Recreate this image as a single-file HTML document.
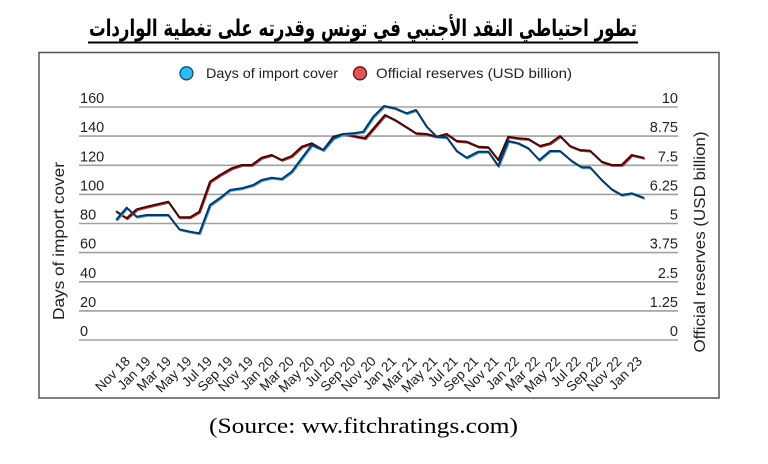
<!DOCTYPE html>
<html><head><meta charset="utf-8"><style>
html,body{margin:0;padding:0;background:#fff;}
svg{display:block;}
</style></head><body>
<svg width="768" height="464" viewBox="0 0 768 464" xmlns="http://www.w3.org/2000/svg">
<rect width="768" height="464" fill="#fff"/>
<!-- title -->
<text x="363" y="36" text-anchor="middle" direction="rtl" font-family="'DejaVu Sans', sans-serif" font-weight="bold" font-size="23" fill="#000" textLength="548" lengthAdjust="spacingAndGlyphs">تطور احتياطي النقد الأجنبي في تونس وقدرته على تغطية الواردات</text>
<rect x="88" y="41.5" width="550" height="2" fill="#000"/>
<!-- frame -->
<rect x="39" y="52.5" width="680" height="345.5" fill="none" stroke="#555" stroke-width="1.5"/>
<!-- legend -->
<circle cx="186.5" cy="73.3" r="6.5" fill="#2bbcf5" stroke="#1a4a6a" stroke-width="1.3"/>
<text x="206" y="78" font-family="'Liberation Sans', sans-serif" font-size="14" fill="#222" textLength="132" lengthAdjust="spacingAndGlyphs">Days of import cover</text>
<circle cx="360" cy="73.3" r="6.5" fill="#e05555" stroke="#6a1515" stroke-width="1.3"/>
<text x="376" y="78" font-family="'Liberation Sans', sans-serif" font-size="14" fill="#222" textLength="196" lengthAdjust="spacingAndGlyphs">Official reserves (USD billion)</text>
<!-- grid -->
<g stroke="#a0a0a0" stroke-width="1.6">
<line x1="79" x2="678" y1="107" y2="107"/>
<line x1="79" x2="678" y1="136.1" y2="136.1"/>
<line x1="79" x2="678" y1="165.3" y2="165.3"/>
<line x1="79" x2="678" y1="194.4" y2="194.4"/>
<line x1="79" x2="678" y1="223.5" y2="223.5"/>
<line x1="79" x2="678" y1="252.6" y2="252.6"/>
<line x1="79" x2="678" y1="281.8" y2="281.8"/>
<line x1="79" x2="678" y1="310.9" y2="310.9"/>
<line x1="79" x2="678" y1="340" y2="340"/>
</g>
<g font-family="'Liberation Sans', sans-serif" font-size="14.5" fill="#222">
<text x="80" y="103">160</text>
<text x="80" y="132.1">140</text>
<text x="80" y="161.3">120</text>
<text x="80" y="190.4">100</text>
<text x="80" y="219.5">80</text>
<text x="80" y="248.6">60</text>
<text x="80" y="277.8">40</text>
<text x="80" y="306.9">20</text>
<text x="80" y="336">0</text>
</g>
<g font-family="'Liberation Sans', sans-serif" font-size="14.5" fill="#222" text-anchor="end">
<text x="678" y="103">10</text>
<text x="678" y="132.1">8.75</text>
<text x="678" y="161.3">7.5</text>
<text x="678" y="190.4">6.25</text>
<text x="678" y="219.5">5</text>
<text x="678" y="248.6">3.75</text>
<text x="678" y="277.8">2.5</text>
<text x="678" y="306.9">1.25</text>
<text x="678" y="336">0</text>
</g>
<!-- axis titles -->
<text transform="translate(64,241) rotate(-90)" text-anchor="middle" font-family="'Liberation Sans', sans-serif" font-size="16" fill="#222" textLength="158" lengthAdjust="spacingAndGlyphs">Days of import cover</text>
<text transform="translate(705,242) rotate(-90)" text-anchor="middle" font-family="'Liberation Sans', sans-serif" font-size="16" fill="#222" textLength="221" lengthAdjust="spacingAndGlyphs">Official reserves (USD billion)</text>
<!-- series: reserves (red) -->
<g fill="none" stroke-linejoin="round" stroke-linecap="round">
<polyline stroke="#c03535" stroke-width="2" transform="translate(0.8,0.9)" points="116.7,211.7 126.7,218.3 136.7,209.3 146.7,206.7 168.3,201.7 179.3,217.3 190,217.3 199.3,211.7 210,181.7 220,175 231.7,168.3 241.7,165 251.7,165 261.7,157.7 271.7,155 281.7,160 291.7,156 301.7,146.7 311.7,143.3 323.3,150 333.3,136.7 343.3,134 353.3,136 365,138.3 375,126.7 385,115 395,120 406.7,127.3 416,133.3 426.7,134 436.7,136.7 446.7,134 456.7,141 466.7,141.7 478.3,146.7 488.3,147.3 498.3,160 508.3,136.7 518.3,138.3 528.3,139 540,146 550,143.3 560,136 570,146 580,150 590,150.7 601.7,161.7 611.7,165 621.7,165 631.7,155 643.3,157.7"/>
<polyline stroke="#3a0c0c" stroke-width="2" points="116.7,211.7 126.7,218.3 136.7,209.3 146.7,206.7 168.3,201.7 179.3,217.3 190,217.3 199.3,211.7 210,181.7 220,175 231.7,168.3 241.7,165 251.7,165 261.7,157.7 271.7,155 281.7,160 291.7,156 301.7,146.7 311.7,143.3 323.3,150 333.3,136.7 343.3,134 353.3,136 365,138.3 375,126.7 385,115 395,120 406.7,127.3 416,133.3 426.7,134 436.7,136.7 446.7,134 456.7,141 466.7,141.7 478.3,146.7 488.3,147.3 498.3,160 508.3,136.7 518.3,138.3 528.3,139 540,146 550,143.3 560,136 570,146 580,150 590,150.7 601.7,161.7 611.7,165 621.7,165 631.7,155 643.3,157.7"/>
<!-- days (blue) -->
<polyline stroke="#35a5e0" stroke-width="2" transform="translate(0.8,0.9)" points="116.7,219.3 126.7,207.7 136.7,216.7 146.7,215 168.3,215 179.3,229.3 190,231.7 199.3,233.3 210,205 220,198 230,190 241.7,188.3 253.3,185 261.7,180 271.7,177.7 281.7,179 291.7,171.7 301.7,158.3 311.7,145 323.3,150 333.3,138.3 343.3,134 353.3,133.3 363.3,131.7 373.3,116.7 384,106 395,108.3 406.7,113.3 416,110 426.7,126.7 436.7,136.7 446.7,137.3 456.7,151 466.7,157.7 478.3,151.7 488.3,151.7 498.3,166 508.3,141 518.3,143.3 528.3,148.3 539.3,160 550,151 560,151 571.7,161 581.7,167.3 590,167.3 601.7,180 611.7,189.3 621.7,195 631.7,193.3 643.3,197.7"/>
<polyline stroke="#0f355c" stroke-width="2" points="116.7,219.3 126.7,207.7 136.7,216.7 146.7,215 168.3,215 179.3,229.3 190,231.7 199.3,233.3 210,205 220,198 230,190 241.7,188.3 253.3,185 261.7,180 271.7,177.7 281.7,179 291.7,171.7 301.7,158.3 311.7,145 323.3,150 333.3,138.3 343.3,134 353.3,133.3 363.3,131.7 373.3,116.7 384,106 395,108.3 406.7,113.3 416,110 426.7,126.7 436.7,136.7 446.7,137.3 456.7,151 466.7,157.7 478.3,151.7 488.3,151.7 498.3,166 508.3,141 518.3,143.3 528.3,148.3 539.3,160 550,151 560,151 571.7,161 581.7,167.3 590,167.3 601.7,180 611.7,189.3 621.7,195 631.7,193.3 643.3,197.7"/>
</g>
<!-- x labels -->
<g font-family="'Liberation Sans', sans-serif" font-size="13.5" fill="#1a1a1a" text-anchor="end">
<text transform="translate(131,362) rotate(-45)">Nov 18</text>
<text transform="translate(151.5,362) rotate(-45)">Jan 19</text>
<text transform="translate(172,362) rotate(-45)">Mar 19</text>
<text transform="translate(192.4,362) rotate(-45)">May 19</text>
<text transform="translate(212.9,362) rotate(-45)">Jul 19</text>
<text transform="translate(233.4,362) rotate(-45)">Sep 19</text>
<text transform="translate(253.9,362) rotate(-45)">Nov 19</text>
<text transform="translate(274.4,362) rotate(-45)">Jan 20</text>
<text transform="translate(294.8,362) rotate(-45)">Mar 20</text>
<text transform="translate(315.3,362) rotate(-45)">May 20</text>
<text transform="translate(335.8,362) rotate(-45)">Jul 20</text>
<text transform="translate(356.3,362) rotate(-45)">Sep 20</text>
<text transform="translate(376.8,362) rotate(-45)">Nov 20</text>
<text transform="translate(397.2,362) rotate(-45)">Jan 21</text>
<text transform="translate(417.7,362) rotate(-45)">Mar 21</text>
<text transform="translate(438.2,362) rotate(-45)">May 21</text>
<text transform="translate(458.7,362) rotate(-45)">Jul 21</text>
<text transform="translate(479.2,362) rotate(-45)">Sep 21</text>
<text transform="translate(499.6,362) rotate(-45)">Nov 21</text>
<text transform="translate(520.1,362) rotate(-45)">Jan 22</text>
<text transform="translate(540.6,362) rotate(-45)">Mar 22</text>
<text transform="translate(561.1,362) rotate(-45)">May 22</text>
<text transform="translate(581.6,362) rotate(-45)">Jul 22</text>
<text transform="translate(602,362) rotate(-45)">Sep 22</text>
<text transform="translate(622.5,362) rotate(-45)">Nov 22</text>
<text transform="translate(643,362) rotate(-45)">Jan 23</text>
</g>
<!-- source -->
<text x="209" y="433" font-family="'Liberation Serif', serif" font-size="22" fill="#000" textLength="309" lengthAdjust="spacingAndGlyphs">(Source: ww.fitchratings.com)</text>
</svg>
</body></html>
